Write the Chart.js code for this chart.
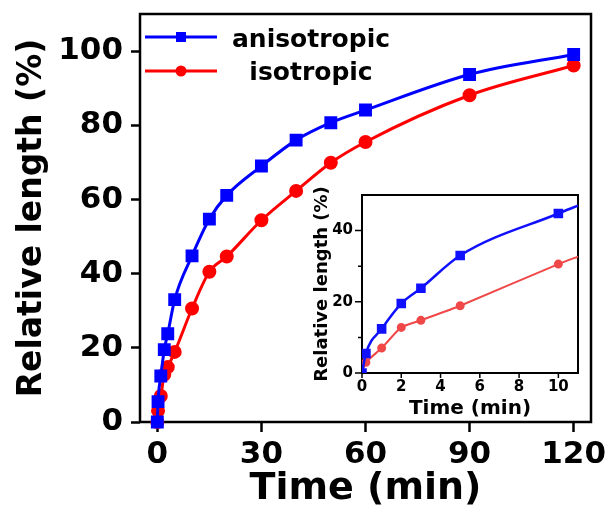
<!DOCTYPE html>
<html>
<head>
<meta charset="utf-8">
<script src="https://cdn.jsdelivr.net/npm/chart.js@4.4.0/dist/chart.umd.min.js"></script>
<style>
  html, body { margin: 0; padding: 0; background: #fff; }
  #wrap { position: relative; width: 608px; height: 512px; }
  #mainChart { position: absolute; left: 0; top: 0; }
  #insetChart { position: absolute; left: 300px; top: 175px; }
</style>
</head>
<body>
<div id="wrap">
  <canvas id="mainChart" width="608" height="512"></canvas>
  <canvas id="insetChart" width="290" height="250"></canvas>
</div>
<script>
// data
const timeMin = [0, 0.2, 1, 2, 3, 5, 10, 15, 20, 30, 40, 50, 60, 90, 120];
const anisotropic = [0, 5.5, 12.4, 19.5, 23.8, 33, 44.8, 54.7, 61.1, 69, 76, 80.7, 84.1, 93.7, 99.1];
const isotropic = [0, 3, 7, 12.8, 14.8, 18.9, 30.6, 40.5, 44.6, 54.4, 62.3, 69.9, 75.5, 88.1, 96.1];

// inset: first 10 min, plus end of the fitted curve at 11 min
const insetTime = [0, 0.2, 1, 2, 3, 5, 10, 11];
const insetAniso = [0, 5.5, 12.4, 19.5, 23.8, 33, 44.8, 47];
const insetIso = [0, 3, 7, 12.8, 14.8, 18.9, 30.6, 32.7];

const xTicks = [0, 30, 60, 90, 120];
const yTicks = [0, 20, 40, 60, 80, 100];
const insetXTicks = [0, 2, 4, 6, 8, 10];
const insetYTicks = [0, 10, 20, 30, 40];

const FONT = "'DejaVu Sans', sans-serif";
const BLUE = "#0000ff";
const RED = "#ff0000";

const toPoints = (xs, ys) => xs.map((x, i) => ({ x: x, y: ys[i] }));

// keep the plot box where we put it, labels may overhang
const noPad = s => { s.paddingTop = 0; s.paddingBottom = 0; s.paddingLeft = 0; s.paddingRight = 0; };

// black box round the plot area
const framePlugin = {
  id: "frame",
  beforeDraw(chart, args, opts) {
    const { ctx, chartArea: a } = chart;
    if (opts.fill) {
      ctx.save();
      ctx.fillStyle = "#fff";
      ctx.fillRect(a.left, a.top, a.right - a.left, a.bottom - a.top);
      ctx.restore();
    }
  },
  beforeDatasetsDraw(chart, args, opts) {
    const { ctx, chartArea: a } = chart;
    ctx.save();
    ctx.lineWidth = opts.width || 2;
    ctx.strokeStyle = "#000";
    ctx.strokeRect(a.left, a.top, a.right - a.left, a.bottom - a.top);
    ctx.restore();
  }
};

// short outward ticks for the inset, minor ones shorter
const smallTicksPlugin = {
  id: "smallTicks",
  beforeDatasetsDraw(chart, args, opts) {
    if (!opts.on) return;
    const { ctx, chartArea: a, scales } = chart;
    ctx.save();
    ctx.strokeStyle = "#000";
    ctx.lineWidth = 1.5;
    ctx.beginPath();
    scales.x.ticks.forEach(t => {
      const px = scales.x.getPixelForValue(t.value);
      ctx.moveTo(px, a.bottom);
      ctx.lineTo(px, a.bottom + 5);
    });
    scales.y.ticks.forEach(t => {
      const py = scales.y.getPixelForValue(t.value);
      const len = t.value % 20 === 0 ? 7 : 4;
      ctx.moveTo(a.left, py);
      ctx.lineTo(a.left - len, py);
    });
    ctx.stroke();
    ctx.restore();
  }
};

// legend: line with marker, text centred
const legendPlugin = {
  id: "lineLegend",
  afterDraw(chart, args, opts) {
    if (!opts.items) return;
    const ctx = chart.ctx;
    ctx.save();
    opts.items.forEach(it => {
      ctx.strokeStyle = it.color;
      ctx.lineWidth = 3;
      ctx.beginPath();
      ctx.moveTo(145, it.y);
      ctx.lineTo(217, it.y);
      ctx.stroke();
      ctx.fillStyle = it.color;
      if (it.shape === "rect") {
        ctx.fillRect(181 - 5, it.y - 5, 10, 10);
      } else {
        ctx.beginPath();
        ctx.arc(181, it.y, 5.5, 0, Math.PI * 2);
        ctx.fill();
      }
      ctx.fillStyle = "#000";
      ctx.font = "bold 25px " + FONT;
      ctx.textAlign = "center";
      ctx.textBaseline = "alphabetic";
      ctx.fillText(it.text, 311, it.base);
    });
    ctx.restore();
  }
};

Chart.register(framePlugin, smallTicksPlugin, legendPlugin);

new Chart(document.getElementById("mainChart"), {
  type: "line",
  data: {
    datasets: [
      {
        label: "anisotropic",
        data: toPoints(timeMin, anisotropic),
        borderColor: BLUE,
        backgroundColor: BLUE,
        borderWidth: 3,
        pointStyle: "rect",
        pointRadius: 7,
        cubicInterpolationMode: "monotone",
        clip: false
      },
      {
        label: "isotropic",
        data: toPoints(timeMin, isotropic),
        borderColor: RED,
        backgroundColor: RED,
        borderWidth: 3,
        pointStyle: "circle",
        pointRadius: 5.5,
        cubicInterpolationMode: "monotone",
        clip: false
      }
    ]
  },
  options: {
    responsive: false,
    animation: false,
    layout: { padding: { top: 14, right: 17, left: 0, bottom: 0 } },
    plugins: {
      legend: { display: false },
      tooltip: { enabled: false },
      frame: { width: 2.5 },
      lineLegend: {
        items: [
          { text: "anisotropic", color: BLUE, shape: "rect", y: 37, base: 47 },
          { text: "isotropic", color: RED, shape: "circle", y: 71, base: 80 }
        ]
      }
    },
    scales: {
      x: {
        type: "linear",
        min: -5,
        max: 125,
        afterBuildTicks: s => { s.ticks = xTicks.map(v => ({ value: v })); },
        afterFit: s => { s.height = 90; noPad(s); },
        border: { display: false },
        grid: { drawOnChartArea: false, drawTicks: true, tickLength: 10, tickWidth: 2.5, tickColor: "#000" },
        ticks: { color: "#000", font: { family: FONT, size: 31, weight: "bold" }, padding: 4, maxRotation: 0, autoSkip: false },
        title: { display: true, text: "Time (min)", color: "#000", font: { family: FONT, size: 38, weight: "bold" }, padding: { top: 0, bottom: 0 } }
      },
      y: {
        min: 0,
        max: 110,
        afterBuildTicks: s => { s.ticks = yTicks.map(v => ({ value: v })); },
        afterFit: s => { s.width = 140; noPad(s); },
        border: { display: false },
        grid: { drawOnChartArea: false, drawTicks: true, tickLength: 9, tickWidth: 2.5, tickColor: "#000" },
        ticks: { color: "#000", font: { family: FONT, size: 31, weight: "bold" }, padding: 8, autoSkip: false },
        title: { display: true, text: "Relative length (%)", color: "#000", font: { family: FONT, size: 33, weight: "bold" }, padding: { top: 13, bottom: 0 } }
      }
    }
  }
});

new Chart(document.getElementById("insetChart"), {
  type: "line",
  data: {
    datasets: [
      {
        label: "anisotropic",
        data: toPoints(insetTime, insetAniso),
        borderColor: "#1010ff",
        backgroundColor: "#1010ff",
        borderWidth: 2.5,
        pointStyle: "rect",
        pointRadius: insetTime.map(t => (t > 10 ? 0 : 5)),
        cubicInterpolationMode: "monotone"
      },
      {
        label: "isotropic",
        data: toPoints(insetTime, insetIso),
        borderColor: "#f04848",
        backgroundColor: "#f04848",
        borderWidth: 2,
        pointStyle: "circle",
        pointRadius: insetTime.map(t => (t > 10 ? 0 : 3.5)),
        tension: 0.2
      }
    ]
  },
  options: {
    responsive: false,
    animation: false,
    layout: { padding: { top: 20, right: 12, left: 0, bottom: 0 } },
    plugins: {
      legend: { display: false },
      tooltip: { enabled: false },
      frame: { width: 2, fill: true },
      smallTicks: { on: true }
    },
    scales: {
      x: {
        type: "linear",
        min: 0,
        max: 11,
        afterBuildTicks: s => { s.ticks = insetXTicks.map(v => ({ value: v })); },
        afterFit: s => { s.height = 52; noPad(s); },
        border: { display: false },
        grid: { display: false, drawTicks: false },
        ticks: { color: "#000", font: { family: FONT, size: 15, weight: "bold" }, padding: 5, maxRotation: 0, autoSkip: false },
        title: { display: true, text: "Time (min)", color: "#000", font: { family: FONT, size: 20, weight: "bold" }, padding: { top: 0, bottom: 4 } }
      },
      y: {
        min: 0,
        max: 50,
        afterBuildTicks: s => { s.ticks = insetYTicks.map(v => ({ value: v })); },
        afterFit: s => { s.width = 62; noPad(s); },
        border: { display: false },
        grid: { display: false, drawTicks: false },
        ticks: {
          color: "#000",
          font: { family: FONT, size: 15, weight: "bold" },
          padding: 9,
          autoSkip: false,
          callback: v => (v % 20 === 0 ? String(v) : "")
        },
        title: { display: true, text: "Relative length (%)", color: "#000", font: { family: FONT, size: 18, weight: "bold" }, padding: { top: 12, bottom: 0 } }
      }
    }
  }
});
</script>
</body>
</html>
